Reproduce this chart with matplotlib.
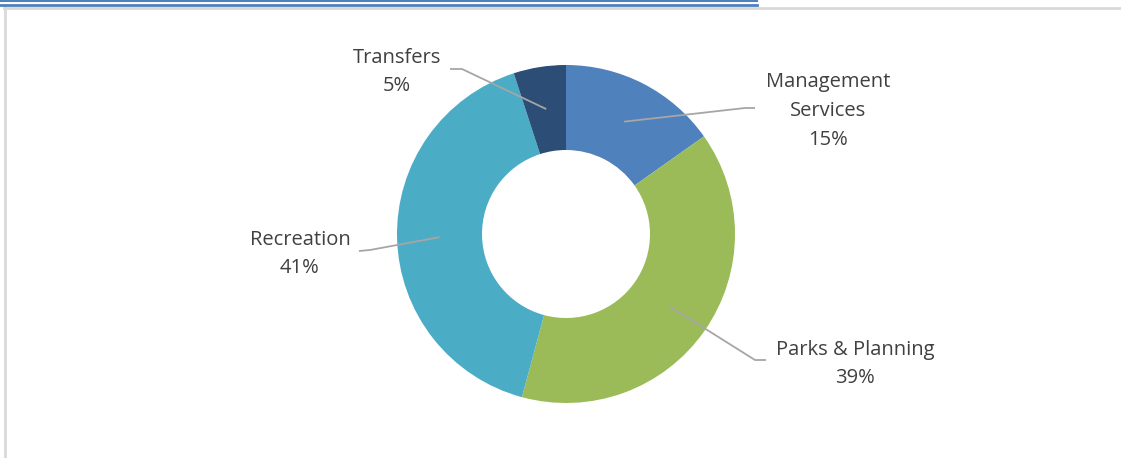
import matplotlib.pyplot as plt
import numpy as np

plt.rcParams['font.family'] = ['Open Sans', 'DejaVu Sans']

# data
categories = ["Management\nServices", "Parks & Planning", "Recreation", "Transfers"]
shares = [15.2, 39.0, 40.8, 5.0]
colors = ['#4F81BD', '#9BBB59', '#4BACC6', '#2C4D75']

# label layout (pixel space, y down): text centre, elbow of leader, leader end
label_pos = [(828, 111), (855, 364), (300, 254), (397, 72)]
elbow = [(745, 108), (755, 360), (370, 250), (462, 69)]
line_end = [(755, 108), (766, 360), (359, 251), (450, 69)]

W, H = 1121, 458
fig = plt.figure(figsize=(W / 100, H / 100), dpi=100)
ax = fig.add_axes([0, 0, 1, 1])
ax.set_xlim(0, W)
ax.set_ylim(0, H)
ax.set_aspect('equal')
ax.axis('off')

cx, cy = 566, H - 234
r_out, r_in = 169, 84
wedges, _ = ax.pie(shares, colors=colors, startangle=90, counterclock=False,
                   radius=r_out, center=(cx, cy),
                   wedgeprops=dict(width=r_out - r_in, linewidth=0))
ax.set_xlim(0, W)
ax.set_ylim(0, H)

for w, lab, val, tp, el, le in zip(wedges, categories, shares, label_pos, elbow, line_end):
    ang = np.deg2rad((w.theta1 + w.theta2) / 2)
    rm = (r_out + r_in) / 2
    ax_ = cx + rm * np.cos(ang)
    ay_ = cy + rm * np.sin(ang)
    ax.plot([ax_, el[0], le[0]], [ay_, H - el[1], H - le[1]],
            color='#A6A6A6', lw=1.3, solid_capstyle='butt')
    ax.text(tp[0], H - tp[1], f"{lab}\n{round(val)}%", ha='center', va='center',
            fontsize=14.5, color='#404040', linespacing=1.58)

# frame
ax.plot([4.5, 4.5], [0, H - 7], color='#D9D9D9', lw=2)
ax.plot([4, W], [H - 8, H - 8], color='#D9D9D9', lw=2)
ax.plot([0, 757], [H - 0.8, H - 0.8], color='#4F81BD', lw=1.5)
ax.plot([0, 757], [H - 5, H - 5], color='#4F81BD', lw=2)

fig.savefig('out.png', dpi=100)
